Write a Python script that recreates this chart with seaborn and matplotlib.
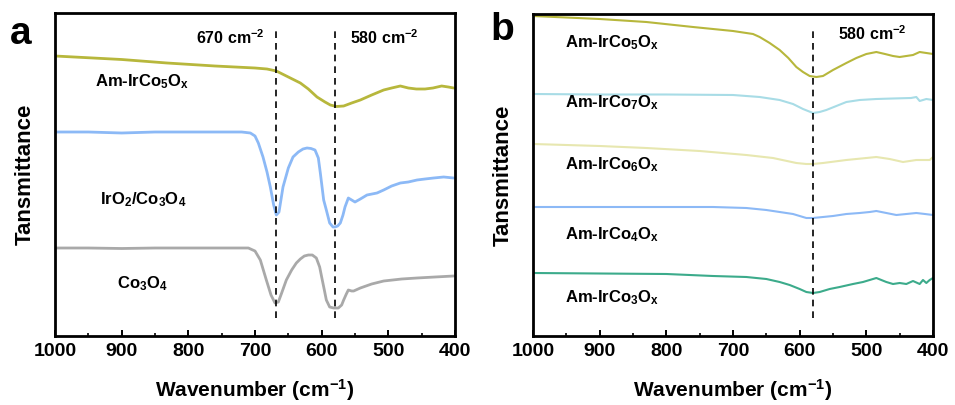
import numpy as np
import pandas as pd
import matplotlib
matplotlib.use("Agg")
import matplotlib.pyplot as plt
import seaborn as sns

# ==================== data ====================
# panel a
wn_a_am5 = [1000, 900, 832, 760, 700, 682, 668, 662, 650, 632, 620, 607, 595, 587, 578, 567, 555, 542,
            525, 507, 495, 482, 470, 458, 445, 433, 420, 410, 402]
t_a_am5 = [280, 276.5, 273, 270, 268, 267, 265, 263, 259, 253, 247, 239, 234, 231, 229.5, 230, 233, 236,
           241, 246, 248, 250, 248, 247, 247, 248, 250, 249, 248]

wn_a_iro2 = [1000, 950, 900, 850, 800, 750, 720, 707, 700, 695, 688, 682, 677, 672, 668, 664, 658, 650,
             643, 635, 628, 622, 616, 610, 605, 602, 597, 593, 588, 583, 580, 576, 572, 568, 565, 560,
             555, 550, 542, 532, 517, 507, 495, 482, 470, 457, 445, 432, 417, 402]
t_a_iro2 = [204, 204, 203, 204, 204, 204, 204, 203, 200, 193, 179, 164, 149, 131, 121, 124, 149, 168,
            179, 184, 187, 188, 187.5, 186, 178, 163, 136, 126, 113, 109, 109, 110, 113, 121, 129, 138,
            136, 134, 137, 141, 143, 146, 150, 153, 154, 156, 157, 158, 159, 158]

wn_a_co = [1000, 950, 900, 850, 800, 750, 710, 700, 692, 683, 676, 670, 665, 660, 653, 645, 638, 632,
           626, 620, 614, 608, 603, 600, 596, 593, 588, 582, 575, 570, 567, 563, 560, 555, 552, 542,
           525, 507, 480, 457, 430, 402]
t_a_co = [88, 88, 87.5, 88, 88, 88, 88, 85, 76, 56, 41, 33, 34, 43, 56, 66, 73, 77,
          80, 81, 81, 78, 69, 59, 46, 36, 29, 28, 28, 31, 36, 42, 46, 45, 45, 48,
          52, 55, 57, 58, 59, 60]

# panel b
wn_b_am5 = [1000, 950, 900, 830, 760, 700, 670, 660, 645, 630, 617, 605, 595, 585, 575, 565, 550, 530,
            515, 500, 485, 472, 460, 450, 440, 430, 420, 410, 400]
t_b_am5 = [320, 318.5, 317, 314, 309, 305, 302, 299, 293, 286, 278, 269, 264, 260, 259, 260, 266, 273,
           278, 282, 284, 282, 280, 279, 280, 281, 284, 283, 282]

wn_b_am7 = [1000, 900, 800, 700, 660, 630, 610, 595, 580, 570, 560, 545, 530, 510, 485, 460, 433, 425,
            420, 410, 400]
t_b_am7 = [242, 241.5, 241.5, 241, 239, 236, 232, 227, 223, 224, 226, 230, 234, 236, 237, 237.5, 238, 239,
           235, 237, 236]

wn_b_am6 = [1000, 900, 830, 750, 680, 640, 605, 590, 580, 565, 530, 500, 485, 465, 445, 425, 405, 400]
t_b_am6 = [192, 190, 188, 185, 181, 178, 173, 172, 172, 173, 176, 178, 179, 177, 174, 176, 176, 179]

wn_b_am4 = [1000, 900, 800, 730, 680, 650, 630, 610, 600, 590, 580, 565, 550, 530, 510, 495, 485, 470,
            455, 440, 425, 412, 400]
t_b_am4 = [129, 129, 129, 129, 128, 126, 124, 122, 120, 118, 118, 119, 120, 122, 123, 124, 125, 123,
           121, 122, 123, 122, 121]

wn_b_am3 = [1000, 900, 800, 730, 680, 650, 630, 615, 600, 590, 580, 570, 555, 540, 520, 505, 485, 470,
            460, 450, 440, 430, 420, 415, 410, 405, 400]
t_b_am3 = [63, 62.5, 62, 60, 59, 57, 54, 51, 47, 44, 43, 44, 47, 49, 52, 54, 58, 54,
           52, 53, 52, 55, 52, 56, 53, 56, 58]

peaks_a = [668, 580]
peaks_b = [580]
xticks = [1000, 900, 800, 700, 600, 500, 400]

# ==================== style ====================
sns.set_style("white")
plt.rcParams['font.family'] = ['Liberation Sans', 'DejaVu Sans']
plt.rcParams['font.weight'] = 'bold'
plt.rcParams['text.color'] = 'black'
plt.rcParams['axes.labelcolor'] = 'black'
plt.rcParams['xtick.color'] = 'black'
plt.rcParams['mathtext.fontset'] = 'custom'
plt.rcParams['mathtext.rm'] = 'Liberation Sans:bold'
plt.rcParams['mathtext.bf'] = 'Liberation Sans:bold'
plt.rcParams['mathtext.it'] = 'Liberation Sans:bold'

fig = plt.figure(figsize=(9.55, 4.05), dpi=100)
ax_a = fig.add_axes([55 / 955, 1 - 336 / 405, 400 / 955, 323 / 405])
ax_b = fig.add_axes([533 / 955, 1 - 336 / 405, 400 / 955, 322 / 405])

curves_a = [(wn_a_am5, t_a_am5, "#b7b73c"),
            (wn_a_iro2, t_a_iro2, "#8cb9f6"),
            (wn_a_co, t_a_co, "#a9a9a9")]
curves_b = [(wn_b_am5, t_b_am5, "#b7b73c"),
            (wn_b_am7, t_b_am7, "#a8dce6"),
            (wn_b_am6, t_b_am6, "#e7e7b0"),
            (wn_b_am4, t_b_am4, "#8cb9f6"),
            (wn_b_am3, t_b_am3, "#3cab8b")]

for ax, curves, lw in [(ax_a, curves_a, 2.0), (ax_b, curves_b, 1.5)]:
    for wn, t, c in curves:
        sns.lineplot(x=wn, y=t, color=c, lw=lw, ax=ax, sort=False)

for p in peaks_a:
    ax_a.vlines(p, 18, 306, colors='black', linestyles=(0, (4, 3)), lw=1.2)
for p in peaks_b:
    ax_b.vlines(p, 18, 306, colors='black', linestyles=(0, (4, 3)), lw=1.2)

fs = 12
# peak labels
ax_a.text(685, 298, r"670 cm$^{-2}$", ha='right', va='center', fontsize=11.5, fontweight='bold')
ax_a.text(557, 298, r"580 cm$^{-2}$", ha='left', va='center', fontsize=11.5, fontweight='bold')
ax_b.text(543, 302, r"580 cm$^{-2}$", ha='left', va='center', fontsize=11.5, fontweight='bold')

# sample labels
ax_a.text(940, 254, r"Am-IrCo$_{5}$O$_{x}$", ha='left', va='center', fontsize=fs, fontweight='bold')
ax_a.text(932, 136, r"IrO$_{2}$/Co$_{3}$O$_{4}$", ha='left', va='center', fontsize=fs, fontweight='bold')
ax_a.text(907, 52, r"Co$_{3}$O$_{4}$", ha='left', va='center', fontsize=fs, fontweight='bold')

names_b = [r"Am-IrCo$_{5}$O$_{x}$", r"Am-IrCo$_{7}$O$_{x}$", r"Am-IrCo$_{6}$O$_{x}$",
           r"Am-IrCo$_{4}$O$_{x}$", r"Am-IrCo$_{3}$O$_{x}$"]
ypos_b = [293, 233, 171, 101, 38]
for name, yy in zip(names_b, ypos_b):
    ax_b.text(952, yy, name, ha='left', va='center', fontsize=fs, fontweight='bold')

for ax, top in [(ax_a, 323), (ax_b, 322)]:
    ax.set_xlim(1000, 400)
    ax.set_ylim(0, top)
    ax.set_xticks(xticks)
    ax.set_xticks(np.arange(950, 400, -100), minor=True)
    ax.set_yticks([])
    ax.tick_params(axis='x', which='major', direction='in', length=4, width=1.4,
                   labelsize=14, pad=5, bottom=True)
    ax.tick_params(axis='x', which='minor', direction='in', length=2.5, width=1.2, bottom=True)
    for lab in ax.get_xticklabels():
        lab.set_fontweight('bold')
    for s in ax.spines.values():
        s.set_linewidth(2.0)
        s.set_color('black')
    ax.set_xlabel(r"Wavenumber (cm$^{-1}$)", fontsize=15, fontweight='bold', labelpad=12)
    ax.set_ylabel("Tansmittance", fontsize=16, fontweight='bold', labelpad=14)

fig.text(10 / 955, 1 - 34 / 405, "a", fontsize=28, fontweight='bold', va='center', ha='left')
fig.text(490 / 955, 1 - 30 / 405, "b", fontsize=28, fontweight='bold', va='center', ha='left')

fig.savefig("out.png", dpi=100, facecolor='white')
